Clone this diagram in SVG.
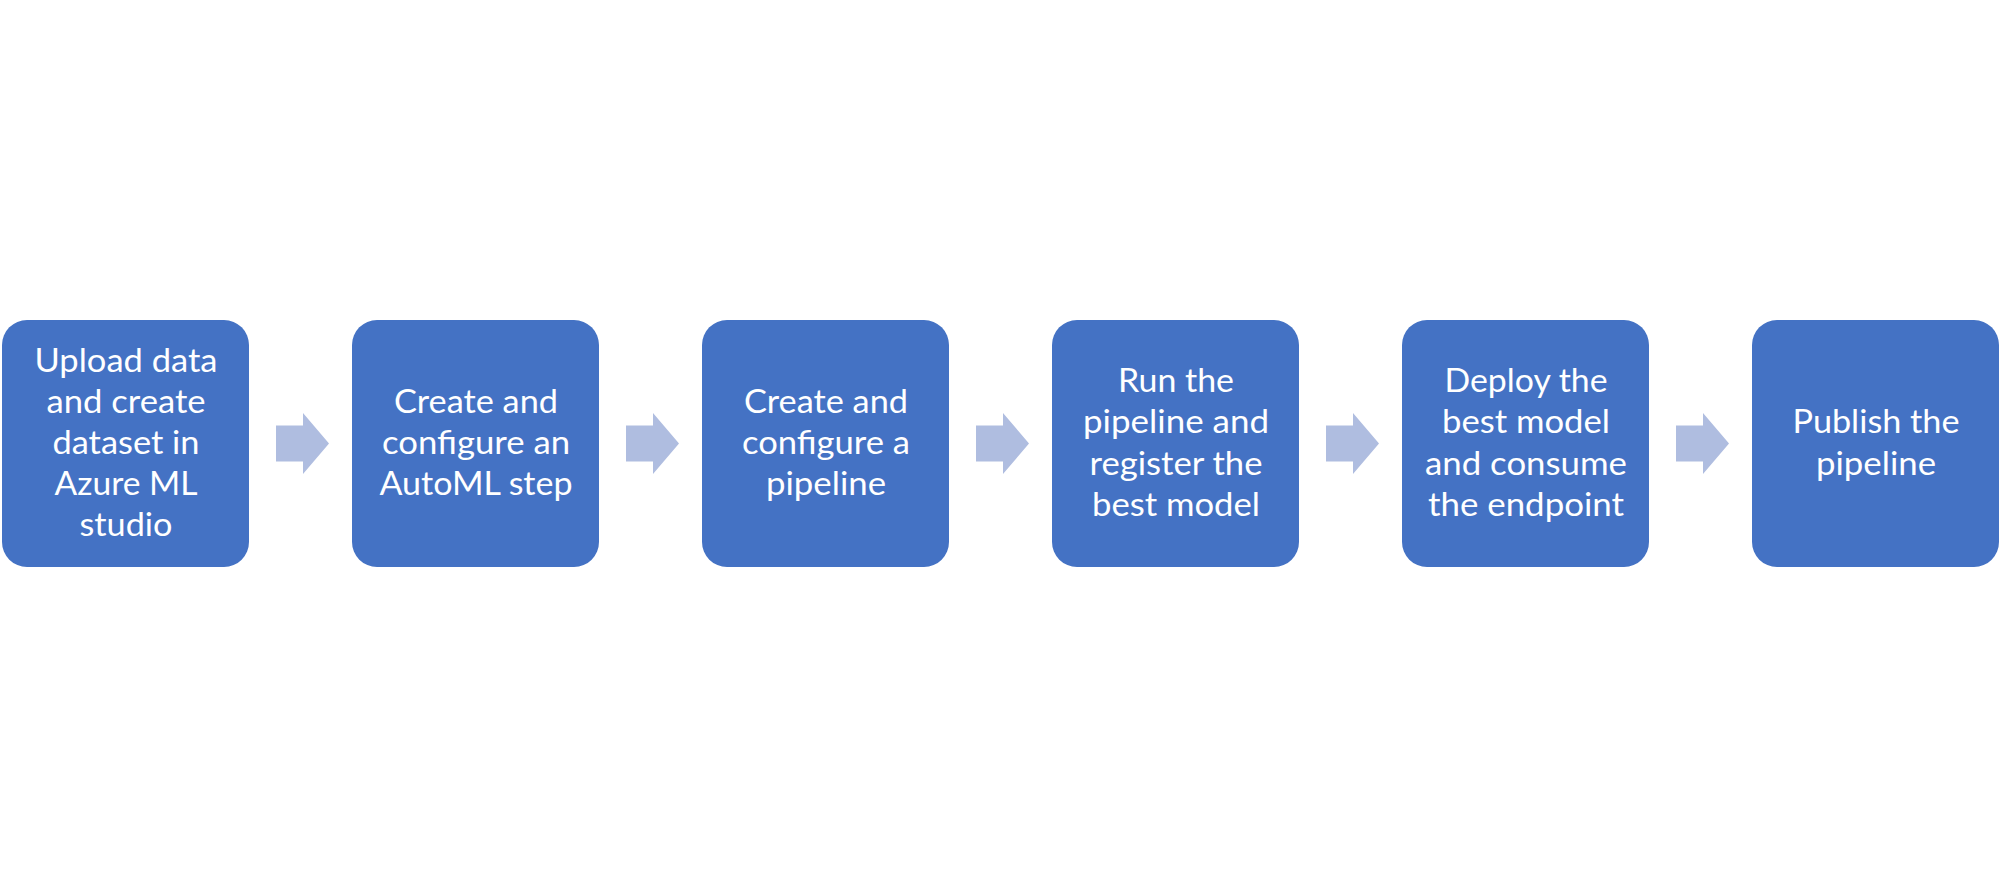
<svg xmlns="http://www.w3.org/2000/svg" width="2002" height="889" viewBox="0 0 2002 889">
<style>
.box{fill:#4472C4;}
.arr{fill:#AFBDE0;}
text{font-family:Lato,"Liberation Sans",sans-serif;font-size:33px;fill:#FFFFFF;text-anchor:middle;}
</style>
<rect width="2002" height="889" fill="#FFFFFF"/>
<g id="connectors">
<polygon class="arr" points="276,425.5 303,425.5 303,413 329,443.5 303,474 303,461.5 276,461.5"/>
<polygon class="arr" transform="translate(350,0)" points="276,425.5 303,425.5 303,413 329,443.5 303,474 303,461.5 276,461.5"/>
<polygon class="arr" transform="translate(700,0)" points="276,425.5 303,425.5 303,413 329,443.5 303,474 303,461.5 276,461.5"/>
<polygon class="arr" transform="translate(1050,0)" points="276,425.5 303,425.5 303,413 329,443.5 303,474 303,461.5 276,461.5"/>
<polygon class="arr" transform="translate(1400,0)" points="276,425.5 303,425.5 303,413 329,443.5 303,474 303,461.5 276,461.5"/>
</g>
<g id="node1">
<rect class="box" x="2" y="320" width="247" height="247" rx="25"/>
<text x="126" y="371.6" textLength="183" lengthAdjust="spacingAndGlyphs">Upload data</text>
<text x="126" y="412.8" textLength="159" lengthAdjust="spacingAndGlyphs">and create</text>
<text x="126" y="454" textLength="147" lengthAdjust="spacingAndGlyphs">dataset in</text>
<text x="126" y="495.2" textLength="143" lengthAdjust="spacingAndGlyphs">Azure ML</text>
<text x="126" y="536.4" textLength="93" lengthAdjust="spacingAndGlyphs">studio</text>
</g>
<g id="node2">
<rect class="box" x="352" y="320" width="247" height="247" rx="25"/>
<text x="476" y="412.8" textLength="164" lengthAdjust="spacingAndGlyphs">Create and</text>
<text x="476" y="454" textLength="188" lengthAdjust="spacingAndGlyphs">configure an</text>
<text x="476" y="495.2" textLength="193" lengthAdjust="spacingAndGlyphs">AutoML step</text>
</g>
<g id="node3">
<rect class="box" x="702" y="320" width="247" height="247" rx="25"/>
<text x="826" y="412.8" textLength="164" lengthAdjust="spacingAndGlyphs">Create and</text>
<text x="826" y="454" textLength="168" lengthAdjust="spacingAndGlyphs">configure a</text>
<text x="826" y="495.2" textLength="120" lengthAdjust="spacingAndGlyphs">pipeline</text>
</g>
<g id="node4">
<rect class="box" x="1052" y="320" width="247" height="247" rx="25"/>
<text x="1176" y="392.2" textLength="116" lengthAdjust="spacingAndGlyphs">Run the</text>
<text x="1176" y="433.4" textLength="186" lengthAdjust="spacingAndGlyphs">pipeline and</text>
<text x="1176" y="474.6" textLength="173" lengthAdjust="spacingAndGlyphs">register the</text>
<text x="1176" y="515.8" textLength="168" lengthAdjust="spacingAndGlyphs">best model</text>
</g>
<g id="node5">
<rect class="box" x="1402" y="320" width="247" height="247" rx="25"/>
<text x="1526" y="392.2" textLength="163" lengthAdjust="spacingAndGlyphs">Deploy the</text>
<text x="1526" y="433.4" textLength="168" lengthAdjust="spacingAndGlyphs">best model</text>
<text x="1526" y="474.6" textLength="202" lengthAdjust="spacingAndGlyphs">and consume</text>
<text x="1526" y="515.8" textLength="196" lengthAdjust="spacingAndGlyphs">the endpoint</text>
</g>
<g id="node6">
<rect class="box" x="1752" y="320" width="247" height="247" rx="25"/>
<text x="1876" y="433.4" textLength="167" lengthAdjust="spacingAndGlyphs">Publish the</text>
<text x="1876" y="474.6" textLength="120" lengthAdjust="spacingAndGlyphs">pipeline</text>
</g>
</svg>
